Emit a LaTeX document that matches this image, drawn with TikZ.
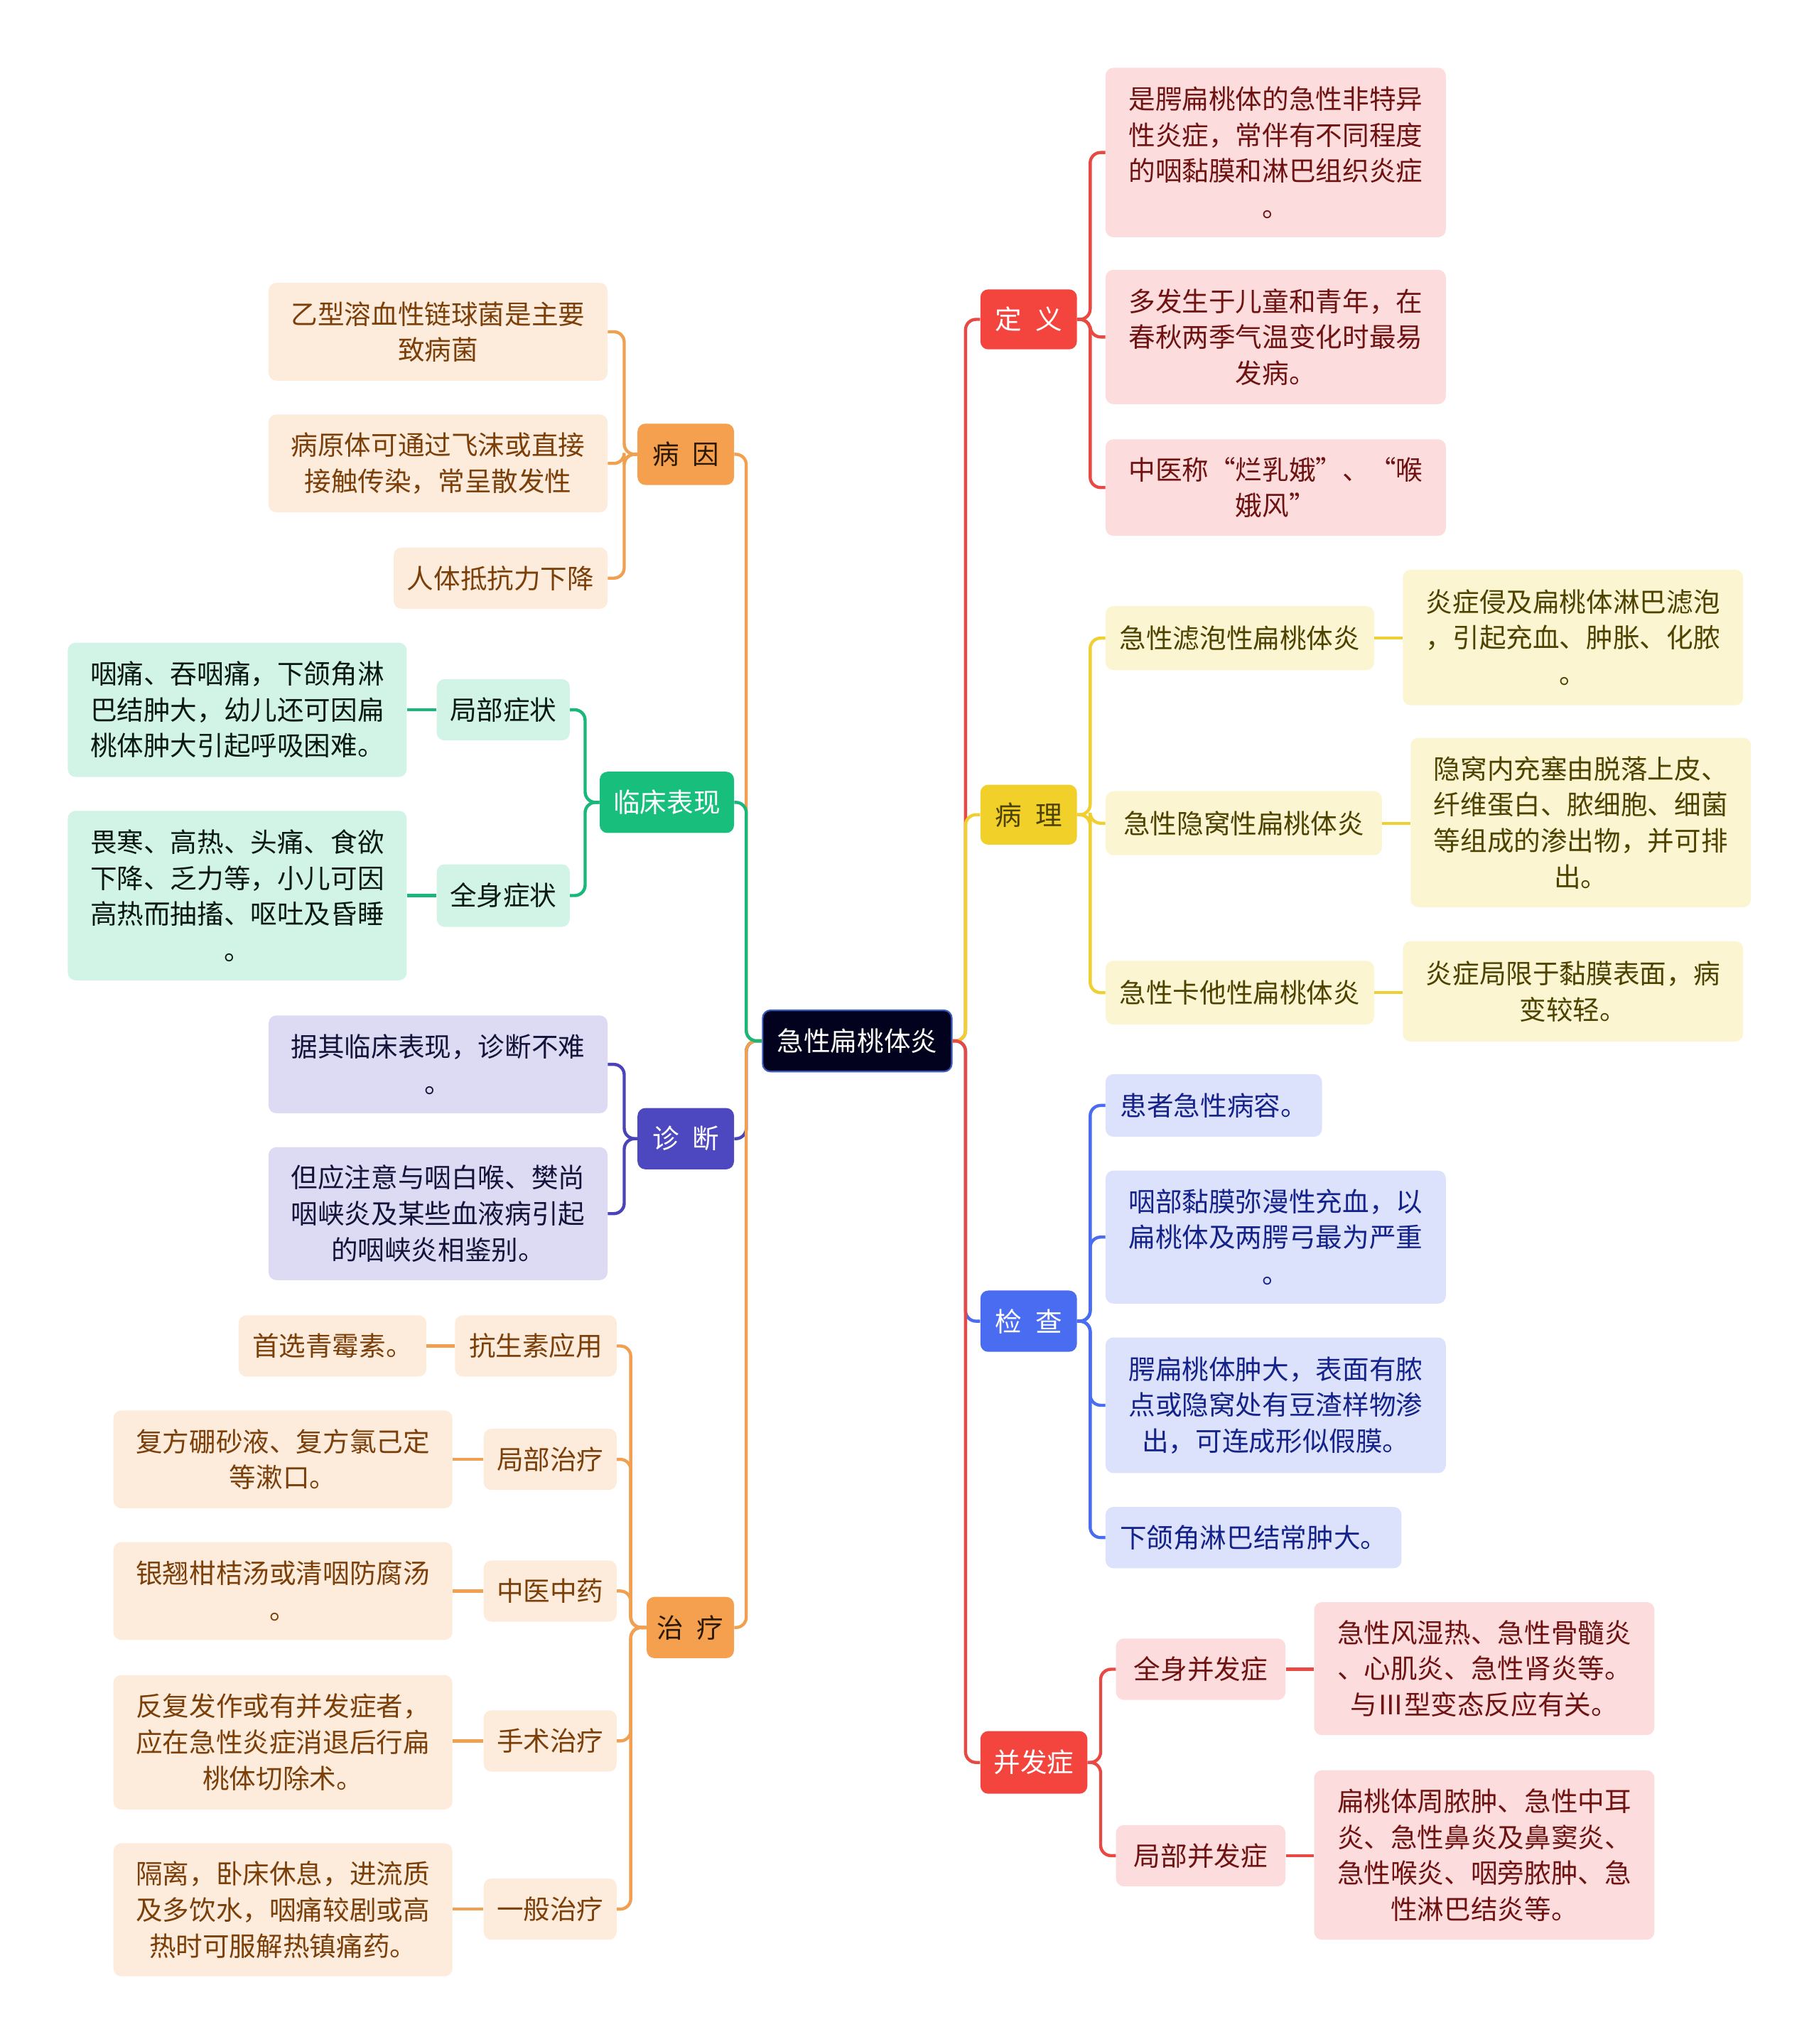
\documentclass[tikz,border=0pt]{standalone}
\usepackage{fontspec}
\setmainfont{Noto Sans CJK SC}
\newcommand\fs{\fontsize{20.5}{27.6}\selectfont}
\definecolor{cRoot}{HTML}{03021E}
\definecolor{cRootB}{HTML}{3A5BC0}
\definecolor{cRed}{HTML}{F4443E}
\definecolor{cRedL}{HTML}{E84A43}
\definecolor{cPink}{HTML}{FCDCDC}
\definecolor{tRed}{HTML}{6E1212}
\definecolor{cYel}{HTML}{F2D02A}
\definecolor{cYelL}{HTML}{F0D030}
\definecolor{cYelP}{HTML}{FCF5D2}
\definecolor{tYel}{HTML}{4D4200}
\definecolor{cBlu}{HTML}{4A6CF0}
\definecolor{cBluP}{HTML}{DCE2FB}
\definecolor{tBlu}{HTML}{14228A}
\definecolor{cOra}{HTML}{F5A04E}
\definecolor{cOraL}{HTML}{F0A050}
\definecolor{cOraP}{HTML}{FDEBDC}
\definecolor{tOra}{HTML}{7B3F0A}
\definecolor{tOraD}{HTML}{2A1800}
\definecolor{cGrn}{HTML}{18BE7C}
\definecolor{cGrnL}{HTML}{18B87A}
\definecolor{cGrnP}{HTML}{D2F4E6}
\definecolor{tGrn}{HTML}{0A1A12}
\definecolor{cPur}{HTML}{4E48C0}
\definecolor{cPurL}{HTML}{4A44B8}
\definecolor{cPurP}{HTML}{DDDAF4}
\definecolor{tPur}{HTML}{14143A}
\tikzset{
  box/.style={rounded corners=6, inner sep=0, align=center, font=\fs},
  rootbox/.style={box, fill=cRoot, draw=cRootB, line width=1.2, text=white},
  redbox/.style={box, fill=cRed, text=white},
  pinkbox/.style={box, fill=cPink, text=tRed},
  yelbox/.style={box, fill=cYel, text=tYel},
  yelpbox/.style={box, fill=cYelP, text=tYel},
  blubox/.style={box, fill=cBlu, text=white},
  blupbox/.style={box, fill=cBluP, text=tBlu},
  orabox/.style={box, fill=cOra, text=tOraD},
  orapbox/.style={box, fill=cOraP, text=tOra},
  grnbox/.style={box, fill=cGrn, text=white},
  grnpbox/.style={box, fill=cGrnP, text=tGrn},
  purbox/.style={box, fill=cPur, text=white},
  purpbox/.style={box, fill=cPurP, text=tPur},
  conn/.style={line width=2.4, rounded corners=8},
}
\newcommand\gapsp{\hspace{0.5em}}
\begin{document}
\begin{tikzpicture}[x=1pt,y=-1pt]
\useasboundingbox[fill=white] (0,0) rectangle (1395,1568);
% root
\node[rootbox, minimum width=145, minimum height=47] (root) at (657.5,798.5) {急性扁桃体炎};
% ---------- right side ----------
\node[redbox, minimum width=74, minimum height=46] (dy) at (789,245) {定\gapsp 义};
\node[pinkbox, minimum width=261, minimum height=130] (d1) at (978.5,117) {是腭扁桃体的急性非特异\\性炎症，常伴有不同程度\\的咽黏膜和淋巴组织炎症\\。};
\node[pinkbox, minimum width=261, minimum height=103] (d2) at (978.5,258.5) {多发生于儿童和青年，在\\春秋两季气温变化时最易\\发病。};
\node[pinkbox, minimum width=261, minimum height=74] (d3) at (978.5,374) {中医称“烂乳娥”、“喉\\娥风”};

\node[yelbox, minimum width=74, minimum height=46] (bl) at (789,625) {病\gapsp 理};
\node[yelpbox, minimum width=206, minimum height=49] (p1) at (951,489.5) {急性滤泡性扁桃体炎};
\node[yelpbox, minimum width=261, minimum height=104] (p1a) at (1206.5,489) {炎症侵及扁桃体淋巴滤泡\\，引起充血、肿胀、化脓\\。};
\node[yelpbox, minimum width=212, minimum height=49] (p2) at (954,631.5) {急性隐窝性扁桃体炎};
\node[yelpbox, minimum width=261, minimum height=130] (p2a) at (1212.5,631) {隐窝内充塞由脱落上皮、\\纤维蛋白、脓细胞、细菌\\等组成的渗出物，并可排\\出。};
\node[yelpbox, minimum width=206, minimum height=49] (p3) at (951,761.5) {急性卡他性扁桃体炎};
\node[yelpbox, minimum width=261, minimum height=77] (p3a) at (1206.5,760.5) {炎症局限于黏膜表面，病\\变较轻。};

\node[blubox, minimum width=74, minimum height=47] (jc) at (789,1013.5) {检\gapsp 查};
\node[blupbox, minimum width=166, minimum height=48] (k1) at (931,848) {患者急性病容。};
\node[blupbox, minimum width=261, minimum height=102] (k2) at (978.5,949) {咽部黏膜弥漫性充血，以\\扁桃体及两腭弓最为严重\\。};
\node[blupbox, minimum width=261, minimum height=104] (k3) at (978.5,1078) {腭扁桃体肿大，表面有脓\\点或隐窝处有豆渣样物渗\\出，可连成形似假膜。};
\node[blupbox, minimum width=227, minimum height=47] (k4) at (961.5,1179.5) {下颌角淋巴结常肿大。};

\node[redbox, minimum width=82, minimum height=48] (bf) at (793,1352) {并发症};
\node[pinkbox, minimum width=130, minimum height=47] (b1) at (921,1280.5) {全身并发症};
\node[pinkbox, minimum width=261, minimum height=102] (b1a) at (1138.5,1280) {急性风湿热、急性骨髓炎\\、心肌炎、急性肾炎等。\\与Ⅲ型变态反应有关。};
\node[pinkbox, minimum width=130, minimum height=47] (b2) at (921,1423.5) {局部并发症};
\node[pinkbox, minimum width=261, minimum height=130] (b2a) at (1138.5,1423) {扁桃体周脓肿、急性中耳\\炎、急性鼻炎及鼻窦炎、\\急性喉炎、咽旁脓肿、急\\性淋巴结炎等。};
% ---------- left side ----------
\node[orabox, minimum width=74, minimum height=47] (by) at (526,348.5) {病\gapsp 因};
\node[orapbox, minimum width=260, minimum height=75] (y1) at (336,254.5) {乙型溶血性链球菌是主要\\致病菌};
\node[orapbox, minimum width=260, minimum height=75] (y2) at (336,355.5) {病原体可通过飞沫或直接\\接触传染，常呈散发性};
\node[orapbox, minimum width=164, minimum height=47] (y3) at (384,443.5) {人体抵抗力下降};

\node[grnbox, minimum width=103, minimum height=47] (lc) at (511.5,615.5) {临床表现};
\node[grnpbox, minimum width=102, minimum height=47] (c1) at (386,544.5) {局部症状};
\node[grnpbox, minimum width=260, minimum height=103] (c1a) at (182,544.5) {咽痛、吞咽痛，下颌角淋\\巴结肿大，幼儿还可因扁\\桃体肿大引起呼吸困难。};
\node[grnpbox, minimum width=102, minimum height=48] (c2) at (386,687) {全身症状};
\node[grnpbox, minimum width=260, minimum height=130] (c2a) at (182,687) {畏寒、高热、头痛、食欲\\下降、乏力等，小儿可因\\高热而抽搐、呕吐及昏睡\\。};

\node[purbox, minimum width=74, minimum height=47] (zd) at (526,873.5) {诊\gapsp 断};
\node[purpbox, minimum width=260, minimum height=75] (z1) at (336,816.5) {据其临床表现，诊断不难\\。};
\node[purpbox, minimum width=260, minimum height=102] (z2) at (336,931) {但应注意与咽白喉、樊尚\\咽峡炎及某些血液病引起\\的咽峡炎相鉴别。};

\node[orabox, minimum width=67, minimum height=47] (zl) at (529.5,1248.5) {治\gapsp 疗};
\node[orapbox, minimum width=124, minimum height=47] (t1) at (411,1032.5) {抗生素应用};
\node[orapbox, minimum width=144, minimum height=47] (t1a) at (255,1032.5) {首选青霉素。};
\node[orapbox, minimum width=102, minimum height=47] (t2) at (422,1119.5) {局部治疗};
\node[orapbox, minimum width=260, minimum height=75] (t2a) at (217,1119.5) {复方硼砂液、复方氯己定\\等漱口。};
\node[orapbox, minimum width=102, minimum height=47] (t3) at (422,1220.5) {中医中药};
\node[orapbox, minimum width=260, minimum height=75] (t3a) at (217,1220.5) {银翘柑桔汤或清咽防腐汤\\。};
\node[orapbox, minimum width=102, minimum height=47] (t4) at (422,1335.5) {手术治疗};
\node[orapbox, minimum width=260, minimum height=103] (t4a) at (217,1336.5) {反复发作或有并发症者，\\应在急性炎症消退后行扁\\桃体切除术。};
\node[orapbox, minimum width=102, minimum height=47] (t5) at (422,1464.5) {一般治疗};
\node[orapbox, minimum width=260, minimum height=102] (t5a) at (217,1465) {隔离，卧床休息，进流质\\及多饮水，咽痛较剧或高\\热时可服解热镇痛药。};

% ---------- connectors: root to main branches ----------
\draw[conn, cRedL] (root.east) -- ++(10,0) |- (dy.west);
\draw[conn, cBlu] (root.east) -- ++(10,0) |- (jc.west);
\draw[conn, cYelL] (root.east) -- ++(10,0) |- (bl.west);
\draw[conn, cRedL] (root.east) -- ++(10,0) |- (bf.west);
\draw[conn, cPurL] (root.west) -- ++(-12,0) |- (zd.east);
\draw[conn, cOraL] (root.west) -- ++(-12,0) |- (zl.east);
\draw[conn, cOraL] (root.west) -- ++(-12,0) |- (by.east);
\draw[conn, cGrnL] (root.west) -- ++(-12,0) |- (lc.east);
% ---------- right children ----------
\foreach \c in {d1,d2,d3} \draw[conn, cRedL] (dy.east) -- ++(10,0) |- (\c.west);
\foreach \c in {p1,p2,p3} \draw[conn, cYelL] (bl.east) -- ++(10,0) |- (\c.west);
\draw[conn, cYelL] (p1.east) -- (p1.east -| p1a.west);
\draw[conn, cYelL] (p2.east) -- (p2.east -| p2a.west);
\draw[conn, cYelL] (p3.east) -- (p3.east -| p3a.west);
\foreach \c in {k1,k2,k3,k4} \draw[conn, cBlu] (jc.east) -- ++(10,0) |- (\c.west);
\foreach \c in {b1,b2} \draw[conn, cRedL] (bf.east) -- ++(10,0) |- (\c.west);
\draw[conn, cRedL] (b1.east) -- (b1.east -| b1a.west);
\draw[conn, cRedL] (b2.east) -- (b2.east -| b2a.west);
% ---------- left children ----------
\foreach \c in {y1,y2,y3} \draw[conn, cOraL] (by.west) -- ++(-10,0) |- (\c.east);
\foreach \c in {c1,c2} \draw[conn, cGrnL] (lc.west) -- ++(-11,0) |- (\c.east);
\draw[conn, cGrnL] (c1.west) -- (c1.west -| c1a.east);
\draw[conn, cGrnL] (c2.west) -- (c2.west -| c2a.east);
\foreach \c in {z1,z2} \draw[conn, cPurL] (zd.west) -- ++(-10,0) |- (\c.east);
\foreach \c in {t1,t2,t3,t4,t5} \draw[conn, cOraL] (zl.west) -- ++(-12,0) |- (\c.east);
\draw[conn, cOraL] (t1.west) -- (t1.west -| t1a.east);
\draw[conn, cOraL] (t2.west) -- (t2.west -| t2a.east);
\draw[conn, cOraL] (t3.west) -- (t3.west -| t3a.east);
\draw[conn, cOraL] (t4.west) -- (t4.west -| t4a.east);
\draw[conn, cOraL] (t5.west) -- (t5.west -| t5a.east);
\end{tikzpicture}
\end{document}
